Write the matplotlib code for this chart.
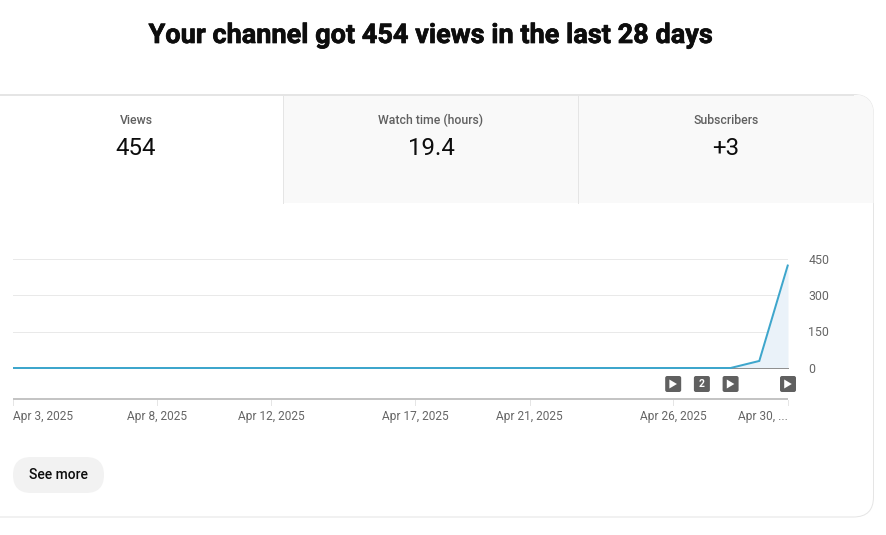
import matplotlib
matplotlib.use('Agg')
import matplotlib.pyplot as plt
import matplotlib.patheffects as pe
from matplotlib.patches import FancyBboxPatch, Rectangle

plt.rcParams['font.family'] = ['Roboto', 'DejaVu Sans']

# Data
days = list(range(3, 31))
views = [0] * 26 + [29, 425]
y_ticks = [0, 150, 300, 450]
tick_days = [3, 8, 12, 17, 21, 26, 30]
tick_labels = ['Apr 3, 2025', 'Apr 8, 2025', 'Apr 12, 2025', 'Apr 17, 2025',
               'Apr 21, 2025', 'Apr 26, 2025', 'Apr 30, ...']
marker_days = [26, 27, 28, 30]
marker_labels = ['play', '2', 'play', 'play']
tab_names = ['Views', 'Watch time (hours)', 'Subscribers']
tab_values = ['454', '19.4', '+3']
tab_centers = [136, 431, 726]

W, H = 886, 535
px = 72 / 100
fig = plt.figure(figsize=(W / 100, H / 100), dpi=100)

# Background layer, in pixels of the page
bg = fig.add_axes([0, 0, 1, 1])
bg.set_xlim(0, W)
bg.set_ylim(H, 0)
bg.axis('off')

title = bg.text(431, 35.5, 'Your channel got 454 views in the last 28 days', ha='center', va='center',
                fontsize=19.5, fontweight='bold', color='#0d0d0d')
title.set_path_effects([pe.withStroke(linewidth=0.5, foreground='#0d0d0d')])

# Card
card = FancyBboxPatch((-40, 94.5), 913.5, 422.5, boxstyle='round,pad=0,rounding_size=20',
                      fc='white', ec='#e5e5e5', lw=1 * px)
bg.add_patch(card)
tabs = Rectangle((284, 95), 600, 108, fc='#f9f9f9', ec='none')
bg.add_patch(tabs)
tabs.set_clip_path(card)
bg.plot([283.5, 283.5], [95, 203], color='#e5e5e5', lw=1 * px)
bg.plot([578.5, 578.5], [95, 203], color='#e5e5e5', lw=1 * px)
bg.plot([-40, 853], [94.5, 94.5], color='#e5e5e5', lw=1 * px)

for name, value, cx in zip(tab_names, tab_values, tab_centers):
    bg.text(cx, 120.5, name, ha='center', va='center', fontsize=8.8, fontweight='medium', color='#606060')
    bg.text(cx, 148.3, value, ha='center', va='center', fontsize=17.3, color='#0d0d0d')

# See more button
bg.add_patch(FancyBboxPatch((13, 457), 91, 36, boxstyle='round,pad=0,rounding_size=18',
                            fc='#f2f2f2', ec='none'))
bg.text(58.5, 475, 'See more', ha='center', va='center', fontsize=10, fontweight='medium', color='#0d0d0d')

# Chart
left, right, top, bottom = 13, 788, 258.5, 368
ax = fig.add_axes([left / W, 1 - bottom / H, (right - left) / W, (bottom - top) / H])
ax.patch.set_alpha(0)
ax.set_xlim(3, 30)
ax.set_ylim(0, 450)
for s in ['top', 'left', 'right']:
    ax.spines[s].set_visible(False)
ax.spines['bottom'].set_color('#909090')
ax.spines['bottom'].set_linewidth(1 * px)

ax.grid(axis='y', color='#e9e9e9', lw=1 * px)
ax.set_axisbelow(True)
ax.set_yticks(y_ticks)
ax.yaxis.tick_right()
ax.tick_params(axis='y', length=0, pad=14.5, labelsize=8.9, labelcolor='#666666')
for lab in ax.get_yticklabels():
    lab.set_verticalalignment('center_baseline')
ax.set_xticks([])

ax.fill_between(days, views, color='#eaf2f9', lw=0, zorder=2)
ax.plot(days, views, color='#3ea6cc', lw=2 * px, zorder=3, clip_on=False,
        solid_joinstyle='miter', solid_capstyle='butt')

# x axis strip below the chart, days on x and pixels on y
strip = fig.add_axes([left / W, 1 - 425 / H, (right - left) / W, 50 / H])
strip.set_xlim(3, 30)
strip.set_ylim(425, 375)
strip.patch.set_alpha(0)
strip.axis('off')
strip.plot([3, 30], [399, 399], color='#c4c4c4', lw=2 * px, clip_on=False, solid_capstyle='butt')
for d, lab in zip(tick_days, tick_labels):
    strip.plot([d, d], [400, 405], color='#e5e5e5', lw=1 * px, clip_on=False)
    ha = 'left' if d == tick_days[0] else 'right' if d == tick_days[-1] else 'center'
    strip.text(d, 416.7, lab, ha=ha, va='center', fontsize=8.6, color='#666666', clip_on=False)

# Video markers
for d, lab in zip(marker_days, marker_labels):
    x_off = 8 / (775 / 27)
    strip.add_patch(FancyBboxPatch((d - x_off, 376), 2 * x_off, 16,
                                   boxstyle='round,pad=0,rounding_size=0.07', mutation_aspect=28.7,
                                   fc='#606060', ec='none', clip_on=False))
    if lab == 'play':
        t = 3.8 / (775 / 27)
        strip.fill([d - t, d - t, d + t], [379.5, 388.5, 384], color='white', lw=0, clip_on=False)
    else:
        strip.text(d, 384.3, lab, ha='center', va='center', fontsize=7.5, fontweight='bold', color='white')

fig.savefig('out.png', dpi=100)
